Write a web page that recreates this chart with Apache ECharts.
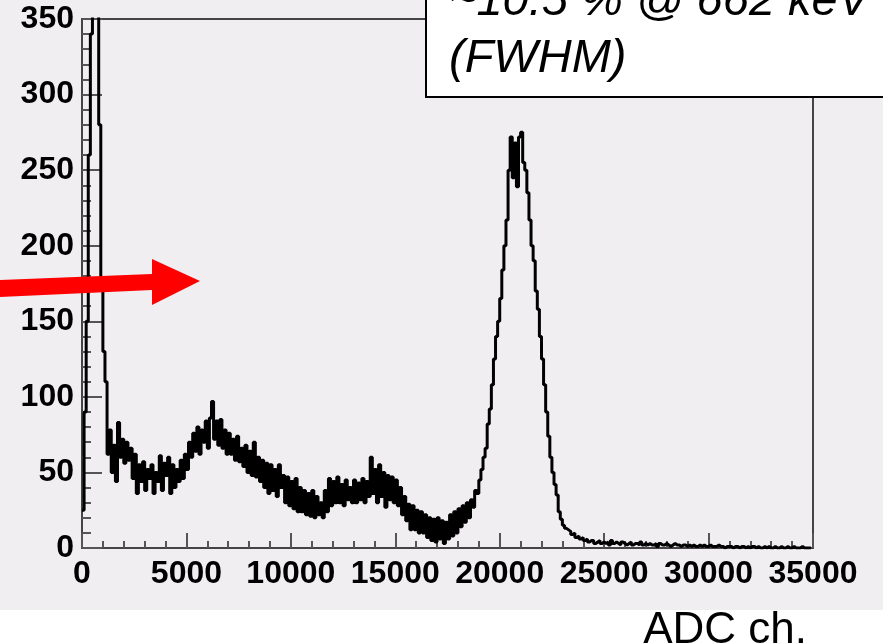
<!DOCTYPE html>
<html>
<head>
<meta charset="utf-8"/>
<title>ADC spectrum</title>
<script src="https://cdn.jsdelivr.net/npm/echarts@6/dist/echarts.min.js"></script>
<style type="text/css">
	body{
		margin: 0px;
		padding: 0px;
		background: #fff;
	}
	#chart{
		width: 883px;
		height: 644px;
		background: linear-gradient(#f0eef1 0px, #f0eef1 610px, #ffffff 610px);
	}
</style>
</head>
<body>
	<div id="chart"></div>
<script type="text/javascript">
	// 直方图参数
	var binWidth = 100;
	var xTicks = [0, 5000, 10000, 15000, 20000, 25000, 30000, 35000];
	var yTicks = [0, 50, 100, 150, 200, 250, 300, 350];
	// counts per 100-channel bin
	// 0 - 1200: low-energy spike
	var countsSpike = [25, 90, 150, 260, 340, 400, 430, 380, 280, 175, 130, 110];
	// 1200 - 19000: noisy continuum
	var countsBody = [
		62, 78, 50, 68, 44, 83, 60, 72, 56, 70,
		58, 66, 46, 62, 36, 55, 44, 57, 38, 52,
		46, 55, 36, 50, 44, 61, 38, 56, 48, 60,
		36, 55, 40, 52, 44, 58, 46, 62, 52, 70,
		60, 76, 64, 80, 62, 78, 70, 84, 66, 86,
		97, 72, 84, 68, 85, 66, 78, 62, 76, 62,
		72, 58, 74, 57, 66, 54, 68, 50, 64, 48,
		70, 47, 60, 44, 58, 40, 56, 36, 55, 38,
		52, 34, 55, 40, 48, 30, 47, 28, 44, 26,
		46, 24, 40, 24, 38, 22, 36, 21, 38, 20,
		34, 22, 30, 20, 38, 24, 46, 28, 44, 30,
		47, 30, 42, 28, 45, 32, 40, 30, 45, 30,
		43, 32, 46, 30, 44, 34, 60, 36, 52, 30,
		55, 34, 50, 27, 48, 32, 47, 30, 45, 28,
		40, 22, 34, 18, 29, 12, 28, 12, 25, 10,
		24, 10, 22, 7, 20, 5, 19, 4, 20, 6,
		18, 3, 17, 6, 22, 8, 24, 10, 26, 14,
		28, 17, 30, 20, 32, 27, 38, 36
	];
	// 19000 - 25000: 662 keV photopeak
	var countsPeak = [
		45, 52, 60, 66, 82, 92, 108, 125, 140, 150,
		165, 184, 200, 217, 250, 272, 245, 268, 239, 272,
		275, 255, 250, 235, 217, 200, 190, 170, 158, 140,
		125, 108, 90, 74, 60, 50, 42, 35, 24, 19,
		15, 13, 12, 11, 9, 10, 7, 8, 6, 7,
		5, 6, 4, 5, 5, 3, 4, 5, 3, 4
	];
	// 25000 - 35000: tail
	var countsTail = [
		3, 4, 2, 5, 3, 4, 3, 2, 4, 3,
		2, 3, 4, 2, 3, 3, 2, 4, 2, 3,
		2, 3, 2, 2, 3, 1, 3, 2, 2, 3,
		2, 1, 2, 3, 2, 2, 1, 2, 2, 1,
		2, 1, 2, 1, 1, 2, 1, 2, 1, 1,
		2, 1, 1, 1, 2, 1, 1, 0, 1, 1,
		1, 0, 1, 1, 0, 1, 1, 0, 1, 0,
		1, 1, 0, 1, 0, 0, 1, 0, 1, 0,
		0, 1, 0, 0, 1, 0, 0, 1, 0, 0,
		1, 0, 0, 0, 1, 0, 0, 0, 0, 0
	];
	var boxLines = ['~10.5 % @ 662 keV', '(FWHM)'];
	var axisTitle = 'ADC ch.';

	var counts = countsSpike.concat(countsBody, countsPeak, countsTail);
	var histData = counts.map(function(c, i){
		return [i * binWidth, c];
	});

	var myChart = echarts.init(document.getElementById('chart'));
	var labelFont = 'Liberation Sans, Arial, sans-serif';
	var option = {
		animation: false,
		grid: {
			left: 82,
			right: 70,
			top: 19,
			bottom: 96,
			outerBoundsMode: 'none',
			show: true,
			borderColor: '#444',
			borderWidth: 2,
			backgroundColor: 'transparent'
		},
		xAxis: {
			type: 'value',
			min: xTicks[0],
			max: xTicks[xTicks.length - 1],
			interval: 5000,
			axisLine: { lineStyle: { color: '#444', width: 2 } },
			axisTick: { inside: true, length: 15, lineStyle: { color: '#555', width: 2 } },
			minorTick: { show: true, splitNumber: 5, length: 7, lineStyle: { color: '#555', width: 2 } },
			splitLine: { show: false },
			axisLabel: {
				color: '#000',
				fontFamily: labelFont,
				fontWeight: 'bold',
				fontSize: 32,
				margin: 10,
				formatter: function(v){ return String(v); }
			}
		},
		yAxis: {
			type: 'value',
			min: yTicks[0],
			max: yTicks[yTicks.length - 1],
			interval: 50,
			axisLine: { show: true, lineStyle: { color: '#444', width: 2 } },
			axisTick: { show: true, inside: true, length: 20, lineStyle: { color: '#555', width: 2 } },
			minorTick: { show: true, splitNumber: 5, length: 9, lineStyle: { color: '#555', width: 2 } },
			splitLine: { show: false },
			axisLabel: {
				color: '#000',
				fontFamily: labelFont,
				fontWeight: 'bold',
				fontSize: 32,
				margin: 8,
				padding: [10, 0, 0, 0]
			}
		},
		series: [
			{
				type: 'line',
				step: 'end',
				symbol: 'none',
				clip: true,
				lineStyle: { color: '#000', width: 3 },
				data: histData
			}
		],
		graphic: [
			// 红色箭头
			{
				type: 'polygon',
				z: 100,
				shape: {
					points: [[0, 280], [152, 274], [152, 259], [200, 281], [152, 305], [152, 290], [0, 297]]
				},
				style: { fill: '#ff0000' }
			},
			// 文本框
			{
				type: 'rect',
				z: 100,
				shape: { x: 426, y: -5, width: 470, height: 102 },
				style: { fill: '#fff', stroke: '#000', lineWidth: 2 }
			},
			{
				type: 'text',
				z: 101,
				style: {
					text: boxLines[0],
					x: 449,
					y: 2,
					verticalAlign: 'middle',
					font: 'italic 47px Liberation Sans, Arial, sans-serif',
					fill: '#000'
				}
			},
			{
				type: 'text',
				z: 101,
				style: {
					text: boxLines[1],
					x: 449,
					y: 59,
					verticalAlign: 'middle',
					font: 'italic 47px Liberation Sans, Arial, sans-serif',
					fill: '#000'
				}
			},
			{
				type: 'text',
				z: 101,
				style: {
					text: axisTitle,
					x: 807,
					y: 631,
					align: 'right',
					verticalAlign: 'middle',
					font: '44px Liberation Sans, Arial, sans-serif',
					fill: '#000'
				}
			}
		]
	};
	myChart.setOption(option);
</script>
</body>
</html>
